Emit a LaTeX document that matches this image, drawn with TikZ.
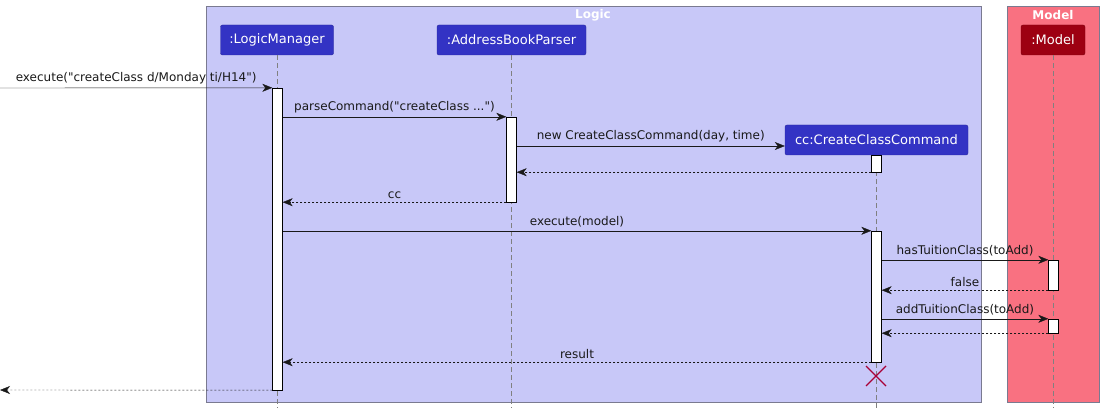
\documentclass[tikz,border=0pt]{standalone}
\usepackage{fontspec}
\setmainfont{DejaVu Sans}
\definecolor{logicbg}{HTML}{C8C8F8}
\definecolor{logicblue}{HTML}{3333C4}
\definecolor{modelbg}{HTML}{F97181}
\definecolor{modelred}{HTML}{9D0012}
\definecolor{frameline}{HTML}{7A7A90}
\definecolor{crimson}{HTML}{A80036}
\usetikzlibrary{arrows.meta}
\newcommand{\q}{\textquotedbl}

\begin{document}
\begin{tikzpicture}[x=1pt, y=-1pt,
    actor/.style={fill=#1, draw=#1!80!black, rounded corners=2pt, text=white,
      font=\fontsize{13}{15}\selectfont, minimum height=30pt, inner xsep=0pt},
    lifeline/.style={draw=gray, dash pattern=on 5pt off 3pt},
    bar/.style={draw=black, fill=white, minimum width=10pt, inner sep=0pt},
    msg/.style={draw=black!90, -{Stealth[length=10pt, width=8pt, inset=3pt]}},
    reply/.style={msg, dash pattern=on 2pt off 2pt},
    lbl/.style={font=\fontsize{12}{14}\selectfont, inner sep=2pt, above=1.5pt, text=black!90}]
  \useasboundingbox (0,0) rectangle (1104,414);

  % Logic box
  \draw[frameline, fill=logicbg] (206,6) rectangle (981,402);
  \node[font=\fontsize{12}{14}\selectfont\bfseries, text=white] (logictitle) at (593,15) {Logic};

  % Model box
  \draw[frameline, fill=modelbg] (1007,6) rectangle (1099,402);
  \node[font=\fontsize{12}{14}\selectfont\bfseries, text=white] (modeltitle) at (1053,15) {Model};

  % participants
  \node[actor=logicblue, minimum width=113pt] (lmhead) at (277,40) {:LogicManager};
  \node[actor=logicblue, minimum width=149pt] (abphead) at (511.5,40) {:AddressBookParser};
  \node[actor=logicblue, minimum width=183pt] (cchead) at (876.5,140) {cc:CreateClassCommand};
  \node[actor=modelred, minimum width=64pt] (mhead) at (1053,40) {:Model};

  % lifelines
  \draw[lifeline] (lmhead.south) -- (lmhead |- 0,408);
  \draw[lifeline] (abphead.south) -- (abphead |- 0,408);
  \draw[lifeline] (cchead.south) -- (cchead |- 0,408);
  \draw[lifeline] (mhead.south) -- (mhead |- 0,408);

  % activation bars
  \node[bar, minimum height=302pt] (lmbar) at (277.5,239) {};
  \node[bar, minimum height=85pt] (abpbar) at (511.5,159.5) {};
  \node[bar, minimum height=17pt] (ccbara) at (876.5,163.5) {};
  \node[bar, minimum height=131pt] (ccbarb) at (876.5,296.5) {};
  \node[bar, minimum height=30pt] (mbara) at (1053.5,275) {};
  \node[bar, minimum height=14pt] (mbarb) at (1053.5,326) {};

  % caller
  \coordinate (caller) at (0,88);
  \coordinate (callerback) at (0,390);

  % messages
  \draw[msg] (caller) -- node[lbl] {execute(\q createClass d/Monday ti/H14\q)} (lmbar.north west);
  \draw[msg] (lmbar.east |- abpbar.north) -- node[lbl] {parseCommand(\q createClass ...\q)} (abpbar.north west);
  \draw[msg] (abpbar.east |- 0,146) -- node[lbl] {new CreateClassCommand(day, time)} (cchead.west |- 0,146);
  \draw[reply] (ccbara.south west) -- (abpbar.east |- ccbara.south);
  \draw[reply] (abpbar.south west) -- node[lbl] {cc} (lmbar.east |- abpbar.south);
  \draw[msg] (lmbar.east |- ccbarb.north) -- node[lbl] {execute(model)} (ccbarb.north west);
  \draw[msg] (ccbarb.east |- mbara.north) -- node[lbl] {hasTuitionClass(toAdd)} (mbara.north west);
  \draw[reply] (mbara.south west) -- node[lbl] {false} (ccbarb.east |- mbara.south);
  \draw[msg] (ccbarb.east |- mbarb.north) -- node[lbl] {addTuitionClass(toAdd)} (mbarb.north west);
  \draw[reply] (mbarb.south west) -- (ccbarb.east |- mbarb.south);
  \draw[reply] (ccbarb.south west) -- node[lbl] {result} (lmbar.east |- ccbarb.south);
  \draw[reply] (lmbar.south west) -- (callerback);

  % destroy
  \draw[crimson, line width=1.3pt] (866,366) -- (886,386) (866,386) -- (886,366);
\end{tikzpicture}
\end{document}
